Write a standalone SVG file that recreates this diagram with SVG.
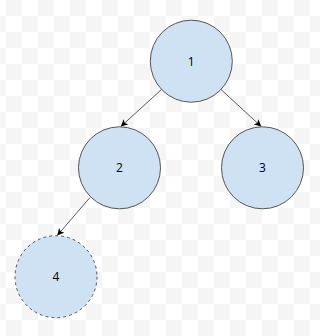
<svg xmlns="http://www.w3.org/2000/svg" width="320" height="336" viewBox="0 0 320 336">
<defs>
<pattern id="checker" x="6" y="0" width="32" height="32" patternUnits="userSpaceOnUse">
<rect x="0" y="0" width="32" height="32" fill="#ffffff"/>
<rect x="0" y="0" width="16" height="16" fill="#f5f5f5"/>
<rect x="16" y="16" width="16" height="16" fill="#f5f5f5"/>
</pattern>
<marker id="arrow" viewBox="0 0 10 10" refX="10" refY="5" markerWidth="7" markerHeight="7" markerUnits="userSpaceOnUse" orient="auto">
<path d="M0,0 L10,5 L0,10 L2.5,5 Z" fill="#000000"/>
</marker>
<style>
.node { fill: #cfe2f3; stroke: #555555; stroke-width: 1; }
.dashed { stroke-dasharray: 3 3; }
.label { font-family: "Open Sans", "Liberation Sans", sans-serif; font-size: 12px; fill: #000000; text-anchor: middle; dominant-baseline: central; }
.edge { stroke: #333333; stroke-width: 0.8; fill: none; marker-end: url(#arrow); }
</style>
</defs>
<rect x="0" y="0" width="320" height="336" fill="url(#checker)"/>
<g id="connectors">
<line class="edge" x1="161.5" y1="89.5" x2="120.8" y2="126.5"/>
<line class="edge" x1="221" y1="89.5" x2="261.2" y2="126.5"/>
<line class="edge" x1="90" y1="197.5" x2="57.2" y2="235.5"/>
</g>
<g id="node1">
<circle class="node" cx="191.3" cy="61.2" r="41"/>
<text class="label" x="191.3" y="61.2">1</text>
</g>
<g id="node2">
<circle class="node" cx="119.5" cy="167.8" r="41"/>
<text class="label" x="119.5" y="167.8">2</text>
</g>
<g id="node3">
<circle class="node" cx="262.5" cy="167.8" r="41"/>
<text class="label" x="262.5" y="167.8">3</text>
</g>
<g id="node4">
<circle class="node dashed" cx="56" cy="276.7" r="41"/>
<text class="label" x="56" y="276.7">4</text>
</g>
</svg>
